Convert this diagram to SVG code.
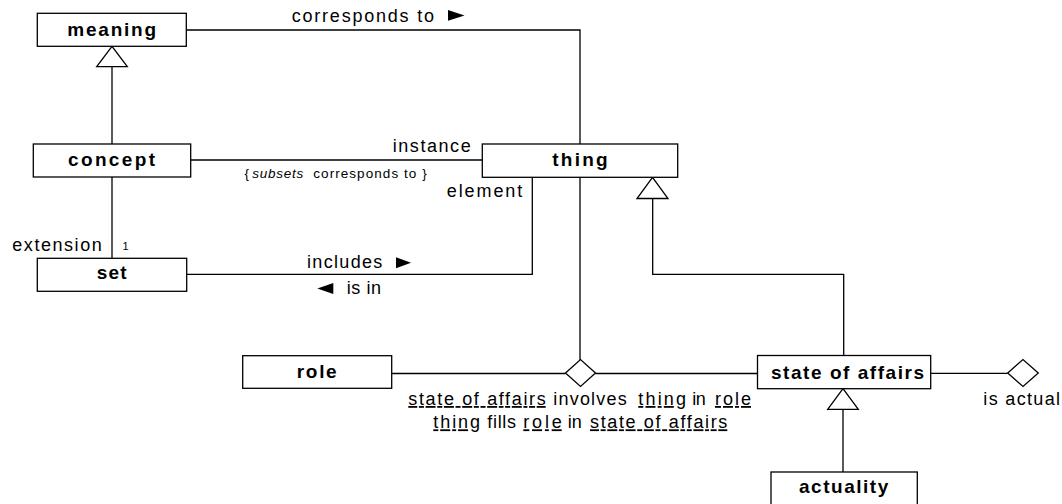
<svg xmlns="http://www.w3.org/2000/svg" width="1062" height="504" viewBox="0 0 1062 504">
<style>
.box{fill:#fff;stroke:#000;stroke-width:1.3}
.ln{fill:none;stroke:#000;stroke-width:1.3}
.gen{fill:#fff;stroke:#000;stroke-width:1.3}
.dia{fill:#fff;stroke:#000;stroke-width:1.3}
.arr{fill:#000;stroke:none}
.nm{font-family:"Liberation Sans",Arial,sans-serif;font-weight:bold;font-size:19px;fill:#000}
.lb{font-family:"Liberation Sans",Arial,sans-serif;font-size:18px;fill:#000}
.sm{font-family:"Liberation Sans",Arial,sans-serif;font-size:13.5px;fill:#000}
.tiny{font-family:"Liberation Sans",Arial,sans-serif;font-size:11px;fill:#000}
.u{text-decoration:underline;text-decoration-skip-ink:none}
</style>
<rect width="1062" height="504" fill="#fff"/>
<g id="connectors">
  <polyline class="ln" points="186.3,30 580,30 580,144"/>
  <line class="ln" x1="190.7" y1="160" x2="482.3" y2="160"/>
  <line class="ln" x1="112" y1="144" x2="112" y2="66.7"/>
  <polygon class="gen" points="112,46.3 96.7,66.7 127.3,66.7"/>
  <line class="ln" x1="112" y1="177" x2="112" y2="258.3"/>
  <polyline class="ln" points="186.7,274.3 532.3,274.3 532.3,177.3"/>
  <line class="ln" x1="580" y1="177.3" x2="580" y2="360"/>
  <line class="ln" x1="391.7" y1="373.5" x2="565.5" y2="373.5"/>
  <line class="ln" x1="595.5" y1="373.5" x2="757.5" y2="373.5"/>
  <polygon class="dia" points="565.5,373 580.5,359.5 595.5,373 580.5,386.5"/>
  <polyline class="ln" points="843.7,355.5 843.7,274.3 652.7,274.3 652.7,198.5"/>
  <polygon class="gen" points="652.5,177.3 637,198.5 668,198.5"/>
  <line class="ln" x1="930.7" y1="373.3" x2="1007.7" y2="373.3"/>
  <polygon class="dia" points="1007.7,373 1023,359.5 1038.3,373 1023,386.5"/>
  <line class="ln" x1="843" y1="472" x2="843" y2="409.3"/>
  <polygon class="gen" points="843,388.7 827.7,409.3 858.3,409.3"/>
  <text class="lb" x="291.7" y="21.7" textLength="142.3" lengthAdjust="spacing">corresponds to</text>
  <polygon class="arr" points="448,10 464.5,15.4 448,20.7"/>
  <text class="lb" x="392.7" y="152.3" textLength="78" lengthAdjust="spacing">instance</text>
  <text class="sm" x="244.5" y="178.3">{</text>
  <text class="sm" x="252.3" y="178.3" font-style="italic" textLength="51" lengthAdjust="spacing">subsets</text>
  <text class="sm" x="313.3" y="178.3" textLength="113.4" lengthAdjust="spacing">corresponds to }</text>
  <text class="lb" x="446.7" y="197.3" textLength="75.6" lengthAdjust="spacing">element</text>
  <text class="lb" x="12.3" y="250.7" textLength="89.4" lengthAdjust="spacing">extension</text>
  <text class="tiny" x="122.5" y="249.5">1</text>
  <text class="lb" x="307" y="268.3" textLength="75.3" lengthAdjust="spacing">includes</text>
  <polygon class="arr" points="396,257.3 411,262.8 396,268.3"/>
  <polygon class="arr" points="333.3,283 317.3,288.5 333.3,294"/>
  <text class="lb" x="346.7" y="294" textLength="34.3" lengthAdjust="spacing">is in</text>
  <text class="lb" x="983.3" y="405" textLength="76.7" lengthAdjust="spacing">is actual</text>
  <text class="lb" y="405">
    <tspan class="u" x="408.3" textLength="137.4" lengthAdjust="spacing">state of affairs</tspan>
    <tspan x="553.3" textLength="73.4" lengthAdjust="spacing">involves</tspan>
    <tspan class="u" x="638.3" textLength="47.7" lengthAdjust="spacing">thing</tspan>
    <tspan x="692.3" textLength="13.4" lengthAdjust="spacing">in</tspan>
    <tspan class="u" x="715" textLength="36" lengthAdjust="spacing">role</tspan>
  </text>
  <text class="lb" y="428.3">
    <tspan class="u" x="433.3" textLength="46.7" lengthAdjust="spacing">thing</tspan>
    <tspan x="487.3" textLength="28.7" lengthAdjust="spacing">fills</tspan>
    <tspan class="u" x="523.3" textLength="38.4" lengthAdjust="spacing">role</tspan>
    <tspan x="567.7" textLength="14" lengthAdjust="spacing">in</tspan>
    <tspan class="u" x="590" textLength="137.3" lengthAdjust="spacing">state of affairs</tspan>
  </text>
</g>
<g id="meaning">
  <rect class="box" x="37.3" y="13.3" width="149" height="33"/>
  <text class="nm" x="67.3" y="35.7" textLength="88.7" lengthAdjust="spacing">meaning</text>
</g>
<g id="concept">
  <rect class="box" x="33.3" y="144" width="157.4" height="33"/>
  <text class="nm" x="68" y="165.7" textLength="87" lengthAdjust="spacing">concept</text>
</g>
<g id="thing">
  <rect class="box" x="482.3" y="144" width="195.4" height="33.3"/>
  <text class="nm" x="552.3" y="165.7" textLength="55.4" lengthAdjust="spacing">thing</text>
</g>
<g id="set">
  <rect class="box" x="37.3" y="258.3" width="149.4" height="33"/>
  <text class="nm" x="96.7" y="279.3" textLength="30" lengthAdjust="spacing">set</text>
</g>
<g id="role">
  <rect class="box" x="242.7" y="355.7" width="149" height="32.6"/>
  <text class="nm" x="296.7" y="378.3" textLength="40" lengthAdjust="spacing">role</text>
</g>
<g id="state-of-affairs">
  <rect class="box" x="757.5" y="355.5" width="173.2" height="33.2"/>
  <text class="nm" x="771" y="379.3" textLength="153" lengthAdjust="spacing">state of affairs</text>
</g>
<g id="actuality">
  <rect class="box" x="771" y="472" width="146.3" height="33"/>
  <text class="nm" x="799" y="493.3" textLength="89.3" lengthAdjust="spacing">actuality</text>
</g>
</svg>
